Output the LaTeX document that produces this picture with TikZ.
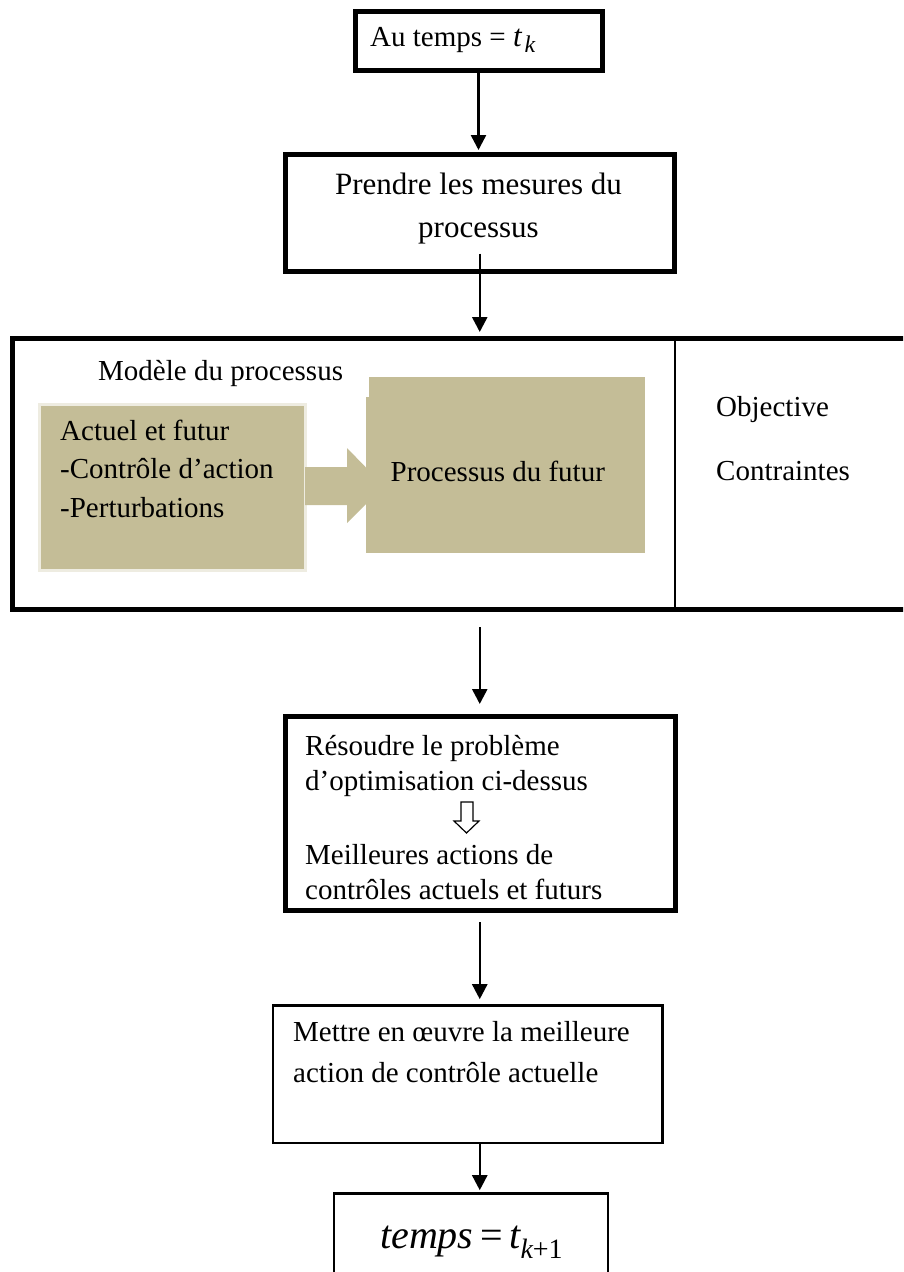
\documentclass[tikz,border=0pt]{standalone}
\usepackage{fontspec}
\setmainfont{Liberation Serif}
\usetikzlibrary{arrows.meta}

\definecolor{tan}{HTML}{C4BD97}
\definecolor{tanedge}{HTML}{EEECE1}

\begin{document}
\begin{tikzpicture}[x=1pt,y=-1pt,
  heavybox/.style={draw, line width=5pt, inner sep=0pt},
  lightbox/.style={draw, line width=2.6pt, inner sep=0pt},
  flow/.style={line width=2.5pt, -{Triangle[length=15pt,width=15pt]}},
  txt/.style={inner sep=0pt, align=left, font=\fontsize{29}{38.5}\selectfont},
  tanblock/.style={fill=tan, inner sep=0pt},
]
\clip (0,0) rectangle (903,1272);

% --- boxes of the loop ---
\node[heavybox, minimum width=247, minimum height=59] (start) at (478.5,41) {};
\node[heavybox, minimum width=389.5, minimum height=117] (measure) at (479.75,212.5) {};
\node[heavybox, minimum width=917.5, minimum height=271.5] (model) at (471.25,473.75) {};
\node[heavybox, minimum width=390.5, minimum height=194.5] (solve) at (480.25,813.25) {};
\node[lightbox, minimum width=389.5, minimum height=137.5] (apply) at (467.75,1074.25) {};
\node[lightbox, minimum width=274, minimum height=110] (next) at (471,1248.5) {};

% divider between model and objective/constraints
\coordinate (divtop) at (675,338);
\coordinate (divbot) at (675,609.5);
\draw[line width=1.5pt] (divtop) -- (divbot);

% --- model of the process ---
\node[tanblock, draw=tanedge, line width=2.5pt, minimum width=266, minimum height=166] (inputs) at (172.5,487.5) {};
\node[tanblock, minimum width=279, minimum height=176] (future) at (505,465) {};
\fill[white] (363,374) rectangle (369,397);
\fill[tan] (305,467) -- (347,467) -- (347,448) -- (384,486) -- (347,523) -- (347,505) -- (305,505) -- cycle;

\node[txt, anchor=base west] (modeltitle) at (98,380) {Modèle du processus};
\node[txt, anchor=base west] (inputs1) at (60,440) {Actuel et futur};
\node[txt, anchor=base west] (inputs2) at (60,478.5) {-Contrôle d’action};
\node[txt, anchor=base west] (inputs3) at (60,517) {-Perturbations};
\node[txt, anchor=base west] (futuretxt) at (390.5,481.7) {Processus du futur};
\node[txt, anchor=base west] (objective) at (716,416) {Objective};
\node[txt, anchor=base west] (constraints) at (716,480) {Contraintes};

% --- texts of the other steps ---
\node[txt, anchor=base west] (starttxt) at (370,46.7)
  {Au temps = {\fontsize{31}{31}\selectfont\itshape t}\hspace{3pt}\raisebox{-6pt}{\fontsize{24}{24}\selectfont\itshape k}};
\node[txt, anchor=base, font=\fontsize{31}{43}\selectfont] (measure1) at (478.5,194) {Prendre les mesures du};
\node[txt, anchor=base, font=\fontsize{31}{43}\selectfont] (measure2) at (478.5,237) {processus};

\node[txt, anchor=base west] (solve1) at (305,755) {Résoudre le problème};
\node[txt, anchor=base west] (solve2) at (305,790.5) {d’optimisation ci-dessus};
\node[txt, anchor=base west] (solve3) at (305,864) {Meilleures actions de};
\node[txt, anchor=base west] (solve4) at (305,899.5) {contrôles actuels et futurs};
\draw[line width=1.2pt, line join=miter]
  (461,802) -- (473,802) -- (473,821) -- (479,821) -- (466.5,833) -- (454,821) -- (461,821) -- cycle;

\node[txt, anchor=base west] (apply1) at (293,1041.7) {Mettre en œuvre la meilleure};
\node[txt, anchor=base west] (apply2) at (293,1082.7) {action de contrôle actuelle};

\node[txt, anchor=base west, font=\fontsize{40}{40}\selectfont] (nexttxt) at (380,1248.3)
  {\itshape temps\/\,\upshape=\,\itshape t\raisebox{-0.25em}{\fontsize{28}{28}\selectfont k\upshape +1}};

% --- connectors ---
\draw[flow, shorten >=1.5pt] (start.south) -- (start.south |- measure.north);
\draw[flow, shorten <=-20pt, shorten >=3.5pt] (measure.south) -- (measure.south |- model.north);
\draw[flow, shorten <=15pt, shorten >=9.5pt] (model.south -| measure.south) -- (measure.south |- solve.north);
\draw[flow, shorten <=9pt, shorten >=5pt] (solve.south -| measure.south) -- (measure.south |- apply.north);
\draw[flow, shorten >=2pt] (apply.south -| measure.south) -- (measure.south |- next.north);
\end{tikzpicture}
\end{document}
